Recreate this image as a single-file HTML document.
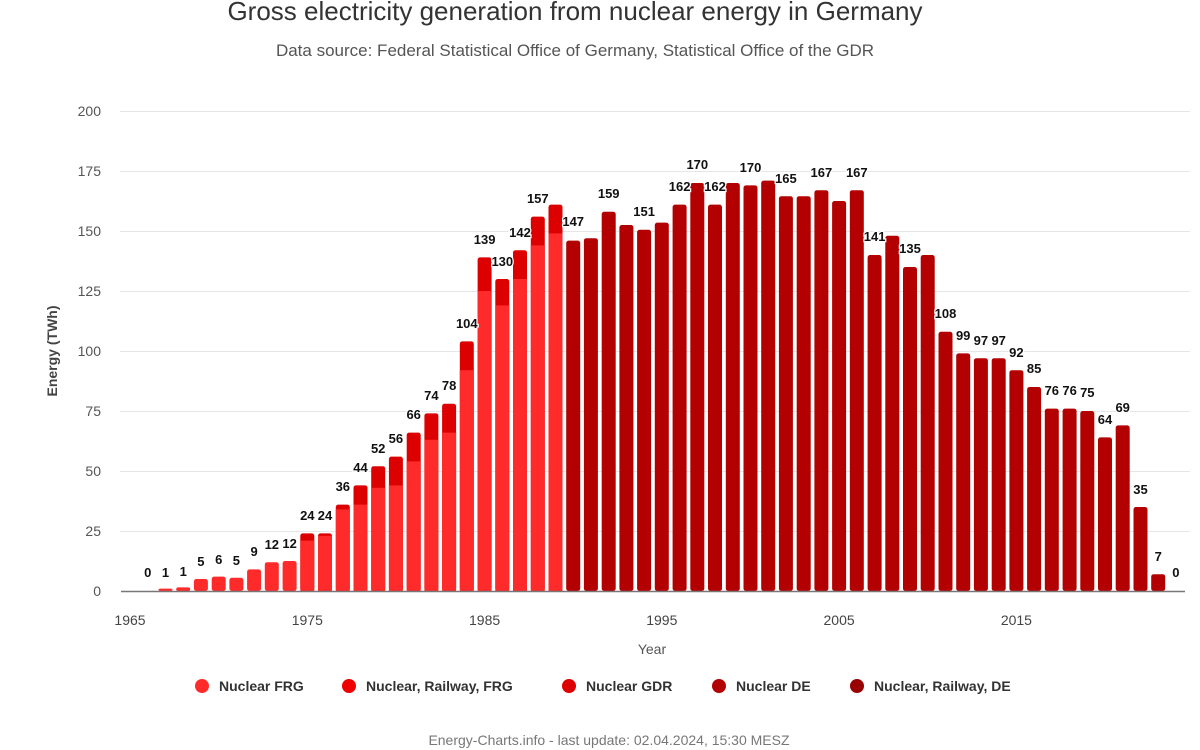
<!DOCTYPE html>
<html><head><meta charset="utf-8"><style>
body{margin:0;background:#fff}
svg{display:block;font-family:"Liberation Sans",sans-serif}
.l text{font-size:13px;font-weight:bold;fill:#111;stroke:#fff;stroke-width:2.5px;paint-order:stroke;text-anchor:middle}
.yt{font-size:14px;fill:#555;text-anchor:end}
.xt{font-size:14px;fill:#444;text-anchor:middle}
.frg{fill:#ff2a2a}.gdr{fill:#dd0000}.de{fill:#b30000}
</style></head><body>
<svg width="1200" height="750" viewBox="0 0 1200 750">
<text x="575" y="20" text-anchor="middle" font-size="26" fill="#333">Gross electricity generation from nuclear energy in Germany</text>
<text x="575" y="56" text-anchor="middle" font-size="17" fill="#555">Data source: Federal Statistical Office of Germany, Statistical Office of the GDR</text>
<g stroke="#e6e6e6" stroke-width="1">
<line x1="120" x2="1190" y1="111.5" y2="111.5"/><line x1="120" x2="1190" y1="171.5" y2="171.5"/><line x1="120" x2="1190" y1="231.5" y2="231.5"/><line x1="120" x2="1190" y1="291.5" y2="291.5"/><line x1="120" x2="1190" y1="351.5" y2="351.5"/><line x1="120" x2="1190" y1="411.5" y2="411.5"/><line x1="120" x2="1190" y1="471.5" y2="471.5"/><line x1="120" x2="1190" y1="531.5" y2="531.5"/>
</g>
<g class="yt">
<text x="101" y="116">200</text><text x="101" y="176">175</text><text x="101" y="236">150</text><text x="101" y="296">125</text><text x="101" y="356">100</text><text x="101" y="416">75</text><text x="101" y="476">50</text><text x="101" y="536">25</text><text x="101" y="596">0</text>
</g>
<text transform="translate(57,351) rotate(-90)" text-anchor="middle" font-size="14" font-weight="bold" fill="#444">Energy (TWh)</text>
<g>
<rect class="frg" x="158.5" y="588.6" width="14" height="2.4" rx="2"/>
<rect class="frg" x="176.2" y="587.4" width="14" height="3.6" rx="2"/>
<rect class="frg" x="193.9" y="579" width="14" height="12" rx="2.5"/>
<rect class="frg" x="211.7" y="576.6" width="14" height="14.4" rx="2.5"/>
<rect class="frg" x="229.4" y="577.8" width="14" height="13.2" rx="2.5"/>
<rect class="frg" x="247.1" y="569.4" width="14" height="21.6" rx="2.5"/>
<rect class="frg" x="264.8" y="562.2" width="14" height="28.8" rx="2.5"/>
<rect class="frg" x="282.6" y="561" width="14" height="30" rx="2.5"/>
<rect class="gdr" x="300.3" y="533.4" width="14" height="57.6" rx="2.5"/><rect class="frg" x="300.3" y="540.6" width="14" height="50.4"/>
<rect class="gdr" x="318" y="533.4" width="14" height="57.6" rx="2.5"/><rect class="frg" x="318" y="535.8" width="14" height="55.2"/>
<rect class="gdr" x="335.8" y="504.6" width="14" height="86.4" rx="2.5"/><rect class="frg" x="335.8" y="509.4" width="14" height="81.6"/>
<rect class="gdr" x="353.5" y="485.4" width="14" height="105.6" rx="2.5"/><rect class="frg" x="353.5" y="504.6" width="14" height="86.4"/>
<rect class="gdr" x="371.2" y="466.2" width="14" height="124.8" rx="2.5"/><rect class="frg" x="371.2" y="487.8" width="14" height="103.2"/>
<rect class="gdr" x="388.9" y="456.6" width="14" height="134.4" rx="2.5"/><rect class="frg" x="388.9" y="485.4" width="14" height="105.6"/>
<rect class="gdr" x="406.7" y="432.6" width="14" height="158.4" rx="2.5"/><rect class="frg" x="406.7" y="461.4" width="14" height="129.6"/>
<rect class="gdr" x="424.4" y="413.4" width="14" height="177.6" rx="2.5"/><rect class="frg" x="424.4" y="439.8" width="14" height="151.2"/>
<rect class="gdr" x="442.1" y="403.8" width="14" height="187.2" rx="2.5"/><rect class="frg" x="442.1" y="432.6" width="14" height="158.4"/>
<rect class="gdr" x="459.8" y="341.4" width="14" height="249.6" rx="2.5"/><rect class="frg" x="459.8" y="370.2" width="14" height="220.8"/>
<rect class="gdr" x="477.6" y="257.4" width="14" height="333.6" rx="2.5"/><rect class="frg" x="477.6" y="291" width="14" height="300"/>
<rect class="gdr" x="495.3" y="279" width="14" height="312" rx="2.5"/><rect class="frg" x="495.3" y="305.4" width="14" height="285.6"/>
<rect class="gdr" x="513" y="250.2" width="14" height="340.8" rx="2.5"/><rect class="frg" x="513" y="279" width="14" height="312"/>
<rect class="gdr" x="530.8" y="216.6" width="14" height="374.4" rx="2.5"/><rect class="frg" x="530.8" y="245.4" width="14" height="345.6"/>
<rect class="gdr" x="548.5" y="204.6" width="14" height="386.4" rx="2.5"/><rect class="frg" x="548.5" y="233.4" width="14" height="357.6"/>
<g class="de">
<rect x="566.2" y="240.6" width="14" height="350.4" rx="2.5"/>
<rect x="583.9" y="238.2" width="14" height="352.8" rx="2.5"/>
<rect x="601.7" y="211.8" width="14" height="379.2" rx="2.5"/>
<rect x="619.4" y="225" width="14" height="366" rx="2.5"/>
<rect x="637.1" y="229.8" width="14" height="361.2" rx="2.5"/>
<rect x="654.8" y="222.6" width="14" height="368.4" rx="2.5"/>
<rect x="672.6" y="204.6" width="14" height="386.4" rx="2.5"/>
<rect x="690.3" y="183" width="14" height="408" rx="2.5"/>
<rect x="708" y="204.6" width="14" height="386.4" rx="2.5"/>
<rect x="725.8" y="183" width="14" height="408" rx="2.5"/>
<rect x="743.5" y="185.4" width="14" height="405.6" rx="2.5"/>
<rect x="761.2" y="180.6" width="14" height="410.4" rx="2.5"/>
<rect x="778.9" y="196.2" width="14" height="394.8" rx="2.5"/>
<rect x="796.7" y="196.2" width="14" height="394.8" rx="2.5"/>
<rect x="814.4" y="190.2" width="14" height="400.8" rx="2.5"/>
<rect x="832.1" y="201" width="14" height="390" rx="2.5"/>
<rect x="849.8" y="190.2" width="14" height="400.8" rx="2.5"/>
<rect x="867.6" y="255" width="14" height="336" rx="2.5"/>
<rect x="885.3" y="235.8" width="14" height="355.2" rx="2.5"/>
<rect x="903" y="267" width="14" height="324" rx="2.5"/>
<rect x="920.7" y="255" width="14" height="336" rx="2.5"/>
<rect x="938.5" y="331.8" width="14" height="259.2" rx="2.5"/>
<rect x="956.2" y="353.4" width="14" height="237.6" rx="2.5"/>
<rect x="973.9" y="358.2" width="14" height="232.8" rx="2.5"/>
<rect x="991.7" y="358.2" width="14" height="232.8" rx="2.5"/>
<rect x="1009.4" y="370.2" width="14" height="220.8" rx="2.5"/>
<rect x="1027.1" y="387" width="14" height="204" rx="2.5"/>
<rect x="1044.8" y="408.6" width="14" height="182.4" rx="2.5"/>
<rect x="1062.6" y="408.6" width="14" height="182.4" rx="2.5"/>
<rect x="1080.3" y="411" width="14" height="180" rx="2.5"/>
<rect x="1098" y="437.4" width="14" height="153.6" rx="2.5"/>
<rect x="1115.7" y="425.4" width="14" height="165.6" rx="2.5"/>
<rect x="1133.5" y="507" width="14" height="84" rx="2.5"/>
<rect x="1151.2" y="574.2" width="14" height="16.8" rx="2.5"/>
</g>
</g>
<line x1="121" x2="1185" y1="591.5" y2="591.5" stroke="#777" stroke-width="1.5"/>
<g class="l">
<text x="147.7" y="577">0</text><text x="165.5" y="577">1</text><text x="183.2" y="576">1</text><text x="200.9" y="566">5</text><text x="218.7" y="564">6</text><text x="236.4" y="565">5</text><text x="254.1" y="556">9</text><text x="271.8" y="549">12</text><text x="289.6" y="548">12</text>
<text x="307.3" y="520">24</text><text x="325" y="520">24</text><text x="342.8" y="491">36</text><text x="360.5" y="472">44</text><text x="378.2" y="453">52</text><text x="395.9" y="443">56</text><text x="413.7" y="419">66</text><text x="431.4" y="400">74</text><text x="449.1" y="390">78</text><text x="466.8" y="328">104</text><text x="484.6" y="244">139</text><text x="502.3" y="266">130</text><text x="520" y="237">142</text><text x="537.8" y="203">157</text>
<text x="573.2" y="226">147</text><text x="608.7" y="198">159</text><text x="644.1" y="216">151</text><text x="679.6" y="191">162</text><text x="697.3" y="169">170</text><text x="715" y="191">162</text><text x="750.5" y="172">170</text><text x="785.9" y="183">165</text><text x="821.4" y="177">167</text><text x="856.8" y="177">167</text><text x="874.6" y="241">141</text><text x="910" y="253">135</text>
<text x="945.5" y="318">108</text><text x="963.2" y="340">99</text><text x="980.9" y="345">97</text><text x="998.7" y="345">97</text><text x="1016.4" y="357">92</text><text x="1034.1" y="373">85</text><text x="1051.8" y="395">76</text><text x="1069.6" y="395">76</text><text x="1087.3" y="397">75</text><text x="1105" y="424">64</text><text x="1122.7" y="412">69</text><text x="1140.5" y="494">35</text><text x="1158.2" y="561">7</text><text x="1175.9" y="577">0</text>
</g>
<g class="xt">
<text x="130" y="625">1965</text><text x="307.3" y="625">1975</text><text x="484.6" y="625">1985</text><text x="661.8" y="625">1995</text><text x="839.1" y="625">2005</text><text x="1016.4" y="625">2015</text>
</g>
<text x="652" y="654" text-anchor="middle" font-size="14" fill="#555">Year</text>
<g font-size="14" font-weight="bold" fill="#333">
<circle cx="202" cy="686" r="7" fill="#ff2a2a"/><text x="219" y="691">Nuclear FRG</text>
<circle cx="349" cy="686" r="7" fill="#ee0000"/><text x="366" y="691">Nuclear, Railway, FRG</text>
<circle cx="569" cy="686" r="7" fill="#dd0000"/><text x="586" y="691">Nuclear GDR</text>
<circle cx="719" cy="686" r="7" fill="#b30000"/><text x="736" y="691">Nuclear DE</text>
<circle cx="857" cy="686" r="7" fill="#990000"/><text x="874" y="691">Nuclear, Railway, DE</text>
</g>
<text x="609" y="745" text-anchor="middle" font-size="14" fill="#777">Energy-Charts.info - last update: 02.04.2024, 15:30 MESZ</text>
</svg>
</body></html>
